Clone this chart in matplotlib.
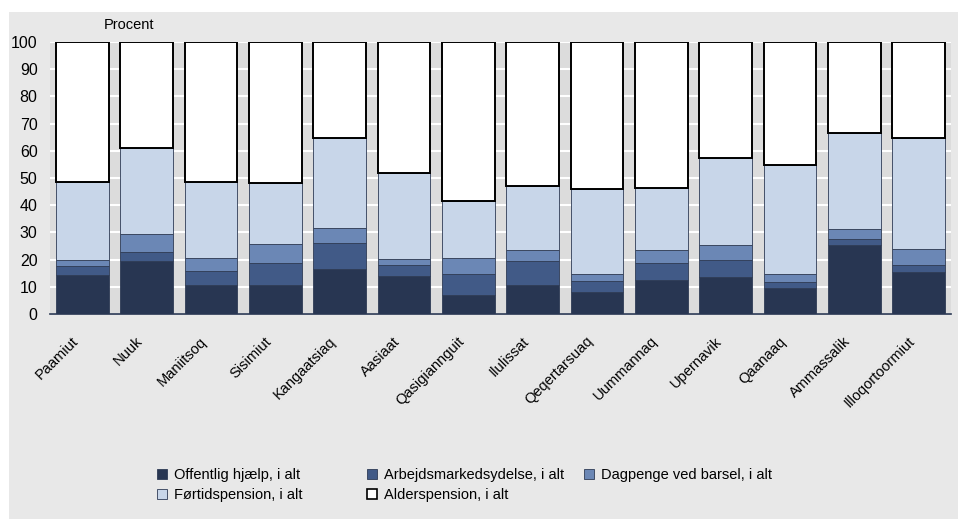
import matplotlib
matplotlib.use("Agg")
import matplotlib.pyplot as plt
from matplotlib.patches import Rectangle, Patch
from matplotlib.transforms import ScaledTranslation
import numpy as np

plt.rcParams['font.family'] = ['Liberation Sans', 'DejaVu Sans']

categories = ["Paamiut", "Nuuk", "Maniitsoq", "Sisimiut", "Kangaatsiaq", "Aasiaat",
              "Qasigiannguit", "Ilulissat", "Qeqertarsuaq", "Uummannaq", "Upernavik",
              "Qaanaaq", "Ammassalik", "Illoqortoormiut"]

offentlig = [14.2, 19.5, 10.6, 10.6, 16.6, 14.1, 7.0, 10.7, 8.1, 12.4, 13.6, 9.4, 25.4, 15.3]
arbejds   = [3.3, 3.4, 5.2, 8.2, 9.5, 3.9, 7.6, 8.7, 4.0, 6.3, 6.3, 2.3, 2.1, 2.7]
dagpenge  = [2.4, 6.4, 4.7, 7.1, 5.6, 2.4, 5.9, 4.0, 2.5, 4.7, 5.4, 2.9, 3.7, 6.0]
fortid    = [28.8, 31.9, 28.1, 22.2, 33.1, 31.3, 21.2, 23.7, 31.3, 23.0, 32.2, 40.0, 35.2, 40.7]
alder     = [51.3, 38.8, 51.4, 51.9, 35.2, 48.3, 58.3, 52.9, 54.1, 53.6, 42.5, 45.4, 33.6, 35.3]

series = [
    ("Offentlig hjælp, i alt", offentlig, "#283652"),
    ("Arbejdsmarkedsydelse, i alt", arbejds, "#415a87"),
    ("Dagpenge ved barsel, i alt", dagpenge, "#6b87b5"),
    ("Førtidspension, i alt", fortid, "#c8d6e9"),
    ("Alderspension, i alt", alder, "#ffffff"),
]
yticks = list(range(0, 101, 10))

fig = plt.figure(figsize=(9.63, 5.21), dpi=100, facecolor="white")
fig.patches.append(Rectangle((9/963, 2/521), (958-9)/963, (521-12-2)/521,
                             transform=fig.transFigure, facecolor="#e8e8e8",
                             edgecolor="none", zorder=-10))

ax = fig.add_axes([50/963, 1-314/521, (951-50)/963, (314-42)/521])
ax.set_facecolor("#dcdcdc")
x = np.arange(len(categories))
bottom = np.zeros(len(categories))
handles = []
for name, vals, col in series:
    vals = np.array(vals)
    if name.startswith("Alder"):
        ax.bar(x, vals, bottom=bottom, width=0.82, color=col, edgecolor="black",
               linewidth=1.4, zorder=3)
        handles.append(Patch(facecolor=col, edgecolor="black", linewidth=1.2, label=name))
    else:
        ax.bar(x, vals, bottom=bottom, width=0.82, color=col, edgecolor="#2e3b55",
               linewidth=0.6, zorder=3)
        handles.append(Patch(facecolor=col, edgecolor="#2e3b55", linewidth=0.6, label=name))
    bottom += vals

ax.set_xlim(-0.5, len(categories) - 0.5)
ax.set_ylim(0, 100)
ax.set_yticks(yticks)
ax.set_yticklabels([str(t) for t in yticks], fontsize=11.5)
ax.yaxis.grid(True, color="white", linewidth=1.5, zorder=1)
ax.set_axisbelow(True)
for s in ["top", "right", "left"]:
    ax.spines[s].set_visible(False)
ax.spines["bottom"].set_color("#283652")
ax.spines["bottom"].set_linewidth(1.2)
ax.tick_params(axis="y", length=0, pad=9)
ax.tick_params(axis="x", length=0, pad=8)
ax.set_xticks(x)
ax.set_xticklabels(categories, rotation=45, ha="right", rotation_mode="anchor", fontsize=10.5)
shift = ScaledTranslation(-11/100, -9/100, fig.dpi_scale_trans)
for lbl in ax.get_xticklabels():
    lbl.set_transform(lbl.get_transform() + shift)

fig.text(104/963, 1-25/521, "Procent", fontsize=10.5, va="center", ha="left")

# legend entries placed like the reference (row-major, uneven columns)
leg_pos = [(0, 157, 475), (1, 367, 475), (2, 584, 475), (3, 157, 495), (4, 367, 495)]
for idx, px, py in leg_pos:
    h = handles[idx]
    lg = fig.legend(handles=[h], labels=[h.get_label()], loc="center left",
                    bbox_to_anchor=(px/963, 1-py/521), frameon=False,
                    fontsize=10.5, handlelength=0.7, handleheight=0.7,
                    handletextpad=0.45, borderpad=0, borderaxespad=0)

fig.savefig("out.png", dpi=100, facecolor=fig.get_facecolor())
